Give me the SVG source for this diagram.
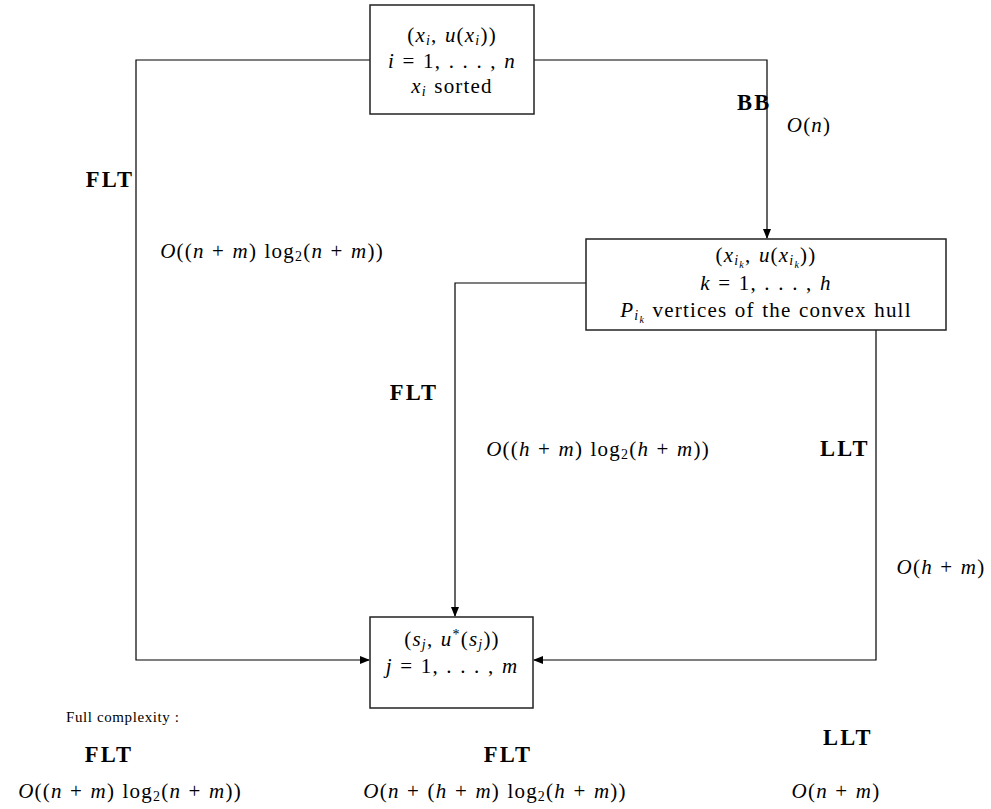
<svg xmlns="http://www.w3.org/2000/svg" width="991" height="809" viewBox="0 0 991 809">
<style>
.bg{fill:#fff}
.box{fill:#fff;stroke:#222;stroke-width:1.5}
.ln{fill:none;stroke:#000;stroke-width:1.2}
.m{font-family:"Liberation Serif","DejaVu Serif",serif;font-size:21px;letter-spacing:1.2px;word-spacing:1px;fill:#000}
.b{font-family:"Liberation Serif","DejaVu Serif",serif;font-size:22.5px;font-weight:bold;letter-spacing:2.3px;fill:#000}
.s{font-family:"Liberation Serif","DejaVu Serif",serif;font-size:15px;letter-spacing:0.6px;fill:#000}
.i{font-style:italic}
.sb{font-size:14px}
.ss{font-size:10px}
</style>
<defs>
<marker id="ar" markerWidth="10" markerHeight="8" refX="9" refY="4" orient="auto" markerUnits="userSpaceOnUse">
<path d="M0,0 L10,4 L0,8 Z" fill="#000"/>
</marker>
</defs>
<rect class="bg" width="991" height="809"/>
<g id="connectors">
<path class="ln" d="M370,60 H136 V660 H369" marker-end="url(#ar)"/>
<path class="ln" d="M534,60 H767 V238" marker-end="url(#ar)"/>
<path class="ln" d="M586,283 H455 V616" marker-end="url(#ar)"/>
<path class="ln" d="M876,330 V660 H534" marker-end="url(#ar)"/>
</g>
<g id="node-input">
<rect class="box" x="370" y="5" width="164" height="109"/>
<text class="m" x="452" y="42" text-anchor="middle">(<tspan class="i">x</tspan><tspan class="i sb" dy="3">i</tspan><tspan dy="-3">, </tspan><tspan class="i">u</tspan>(<tspan class="i">x</tspan><tspan class="i sb" dy="3">i</tspan><tspan dy="-3">))</tspan></text>
<text class="m" x="452" y="68" text-anchor="middle"><tspan class="i">i</tspan> = 1, . . . , <tspan class="i">n</tspan></text>
<text class="m" x="452" y="93" text-anchor="middle"><tspan class="i">x</tspan><tspan class="i sb" dy="3">i</tspan><tspan dy="-3"> sorted</tspan></text>
</g>
<g id="node-hull">
<rect class="box" x="586" y="239" width="360" height="91"/>
<text class="m" x="766" y="262" text-anchor="middle">(<tspan class="i">x</tspan><tspan class="i sb" dy="3">i</tspan><tspan class="i ss" dy="3">k</tspan><tspan dy="-6">, </tspan><tspan class="i">u</tspan>(<tspan class="i">x</tspan><tspan class="i sb" dy="3">i</tspan><tspan class="i ss" dy="3">k</tspan><tspan dy="-6">))</tspan></text>
<text class="m" x="766" y="290" text-anchor="middle"><tspan class="i">k</tspan> = 1, . . . , <tspan class="i">h</tspan></text>
<text class="m" x="766" y="317" text-anchor="middle"><tspan class="i">P</tspan><tspan class="i sb" dy="3">i</tspan><tspan class="i ss" dy="3">k</tspan><tspan dy="-6"> vertices of the convex hull</tspan></text>
</g>
<g id="node-output">
<rect class="box" x="370" y="617" width="163" height="91"/>
<text class="m" x="452" y="646" text-anchor="middle">(<tspan class="i">s</tspan><tspan class="i sb" dy="3">j</tspan><tspan dy="-3">, </tspan><tspan class="i">u</tspan><tspan class="sb" dy="-7">*</tspan><tspan dy="7">(</tspan><tspan class="i">s</tspan><tspan class="i sb" dy="3">j</tspan><tspan dy="-3">))</tspan></text>
<text class="m" x="452" y="673" text-anchor="middle"><tspan class="i">j</tspan> = 1, . . . , <tspan class="i">m</tspan></text>
</g>
<g id="labels">
<text class="b" x="110" y="187" text-anchor="middle">FLT</text>
<text class="m" x="272" y="258" text-anchor="middle"><tspan class="i">O</tspan>((<tspan class="i">n</tspan> + <tspan class="i">m</tspan>) log<tspan class="sb" dy="3">2</tspan><tspan dy="-3">(</tspan><tspan class="i">n</tspan> + <tspan class="i">m</tspan>))</text>
<text class="b" x="737" y="110">BB</text>
<text class="m" x="809" y="132" text-anchor="middle"><tspan class="i">O</tspan>(<tspan class="i">n</tspan>)</text>
<text class="b" x="414" y="400" text-anchor="middle">FLT</text>
<text class="m" x="598" y="456" text-anchor="middle"><tspan class="i">O</tspan>((<tspan class="i">h</tspan> + <tspan class="i">m</tspan>) log<tspan class="sb" dy="3">2</tspan><tspan dy="-3">(</tspan><tspan class="i">h</tspan> + <tspan class="i">m</tspan>))</text>
<text class="b" x="845" y="456" text-anchor="middle">LLT</text>
<text class="m" x="941" y="574" text-anchor="middle"><tspan class="i">O</tspan>(<tspan class="i">h</tspan> + <tspan class="i">m</tspan>)</text>
</g>
<g id="summary">
<text class="s" x="66" y="722">Full complexity :</text>
<text class="b" x="109" y="762" text-anchor="middle">FLT</text>
<text class="b" x="508" y="762" text-anchor="middle">FLT</text>
<text class="b" x="848" y="745" text-anchor="middle">LLT</text>
<text class="m" x="130" y="798" text-anchor="middle"><tspan class="i">O</tspan>((<tspan class="i">n</tspan> + <tspan class="i">m</tspan>) log<tspan class="sb" dy="3">2</tspan><tspan dy="-3">(</tspan><tspan class="i">n</tspan> + <tspan class="i">m</tspan>))</text>
<text class="m" x="495" y="798" text-anchor="middle"><tspan class="i">O</tspan>(<tspan class="i">n</tspan> + (<tspan class="i">h</tspan> + <tspan class="i">m</tspan>) log<tspan class="sb" dy="3">2</tspan><tspan dy="-3">(</tspan><tspan class="i">h</tspan> + <tspan class="i">m</tspan>))</text>
<text class="m" x="836" y="798" text-anchor="middle"><tspan class="i">O</tspan>(<tspan class="i">n</tspan> + <tspan class="i">m</tspan>)</text>
</g>
</svg>
